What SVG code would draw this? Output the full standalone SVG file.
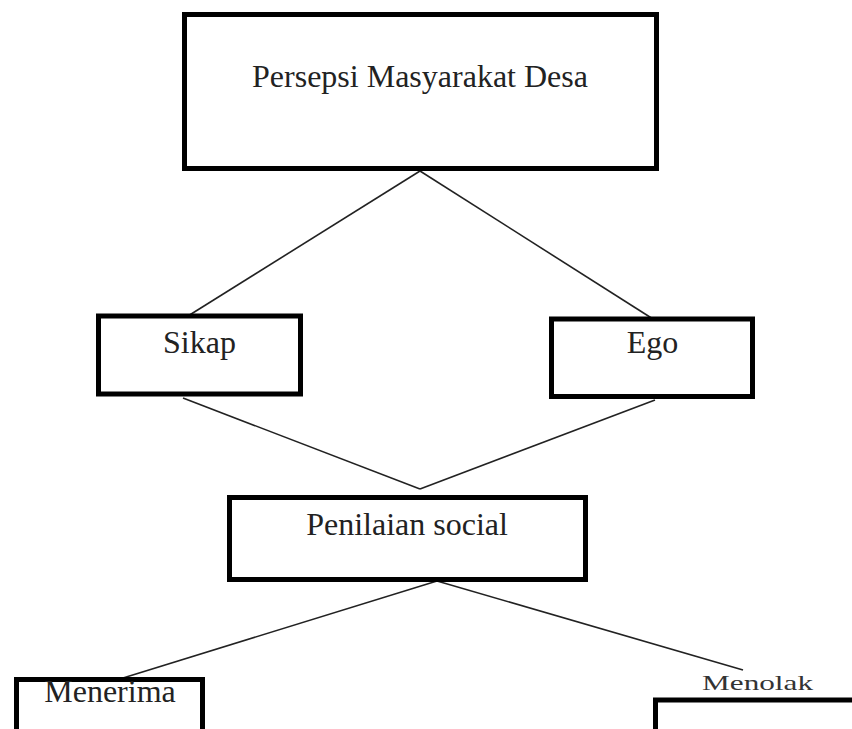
<svg xmlns="http://www.w3.org/2000/svg" width="852" height="729" viewBox="0 0 852 729">
<style>
.box{fill:#fff;stroke:#000;stroke-width:5}
.t{font-family:"Liberation Serif","Times New Roman",serif;font-size:32px;fill:#222;text-anchor:middle}
.ln{stroke:#222;stroke-width:1.6;fill:none}
</style>
<rect width="852" height="729" fill="#fff"/>
<g id="connectors">
<line class="ln" x1="420" y1="171" x2="188" y2="316"/>
<line class="ln" x1="420" y1="171" x2="653" y2="319"/>
<line class="ln" x1="183" y1="398" x2="420" y2="489"/>
<line class="ln" x1="655" y1="400" x2="420" y2="489"/>
<line class="ln" x1="437" y1="581" x2="123" y2="678"/>
<line class="ln" x1="437" y1="581" x2="743" y2="670"/>
</g>
<g id="persepsi">
<rect class="box" x="184.5" y="14.5" width="472" height="154"/>
<text class="t" x="420" y="87">Persepsi Masyarakat Desa</text>
</g>
<g id="sikap">
<rect class="box" x="98.5" y="316" width="202" height="78"/>
<text class="t" x="199.5" y="353">Sikap</text>
</g>
<g id="ego">
<rect class="box" x="551.5" y="319" width="201" height="77.5"/>
<text class="t" x="652.5" y="353">Ego</text>
</g>
<g id="penilaian">
<rect class="box" x="229.5" y="497.5" width="356" height="82"/>
<text class="t" x="407" y="535">Penilaian social</text>
</g>
<g id="menerima">
<rect class="box" x="16.5" y="679.5" width="186" height="60"/>
<text class="t" x="110" y="702">Menerima</text>
</g>
<g id="menolak">
<rect class="box" x="655.5" y="700" width="210" height="60"/>
<text class="t" x="757.5" y="690" style="font-size:22px;fill:#333" textLength="111" lengthAdjust="spacingAndGlyphs">Menolak</text>
</g>
</svg>
